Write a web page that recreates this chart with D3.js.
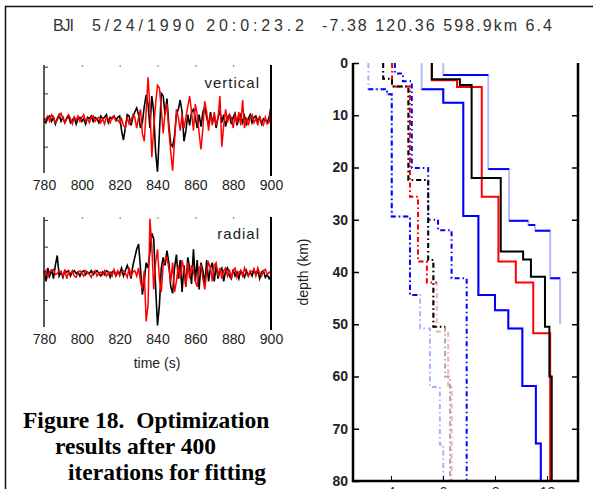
<!DOCTYPE html>
<html>
<head>
<meta charset="utf-8">
<script src="https://cdn.jsdelivr.net/npm/d3@7/dist/d3.min.js"></script>
<style>
  body { margin: 0; background: #fff; }
  svg { display: block; }
  text { font-family: "Liberation Sans", Arial, sans-serif; fill: #222; }
</style>
</head>
<body>
<div id="chart"></div>
<script>
// ---- data ----
const titleParts = ['BJI', '5/24/1990 20:0:23.2', '-7.38 120.36 598.9km 6.4']
const captionLines = ['Figure 18.  Optimization', 'results after 400', 'iterations for fitting']

// seismograms, one sample per second from 780 s to 900 s
const timeTicks = [780, 800, 820, 840, 860, 880, 900]
const vertBlack = [
  0.05, -0.1, 0.1, 0.15, -0.05, 0.1, -0.15, 0.05, 0.2, -0.05,
  0.1, -0.1, 0.05, 0.15, -0.1, 0.0, 0.1, -0.15, 0.05, 0.1,
  -0.05, 0.05, -0.15, 0.1, 0.05, 0.15, -0.05, 0.1, 0.05, -0.1,
  0.15, 0.05, 0.1, 0.2, -0.1, 0.1, 0.05, 0.15, 0.0, 0.1,
  0.15, -0.4, -0.75, -0.3, 0.2, 0.15, -0.2, 0.1, 0.3, 0.45,
  0.2, -0.3, -0.1, 0.5, 0.94, 0.6, -0.3, 0.9, 0.3, -1.2,
  -1.94, -0.5, 1.0, 0.9, 0.2, 0.8, -0.2, -0.9, -1.0, -0.6,
  0.2, 0.4, 0.75, 0.3, -0.8, -0.4, 0.2, -0.2, 0.3, 0.4,
  0.1, -0.3, 0.2, -0.25, 0.3, 0.5, 0.1, -0.2, 0.3, -0.1,
  0.2, -0.3, 0.1, 0.35, -0.1, 0.2, -0.25, 0.1, 0.2, -0.15,
  0.1, 0.25, -0.2, 0.05, 0.2, -0.1, 0.15, -0.15, 0.05, 0.2,
  -0.1, 0.1, 0.15, -0.05, 0.1, -0.15, 0.05, 0.0, -0.1, 0.1,
  0.5
]
const vertRed = [
  -0.1, 0.05, 0.15, -0.05, 0.2, 0.1, -0.1, 0.0, 0.15, 0.25,
  0.05, -0.1, 0.1, 0.2, 0.05, -0.15, 0.1, 0.0, 0.15, -0.05,
  0.1, 0.2, -0.05, 0.05, -0.1, 0.1, 0.15, -0.05, 0.05, 0.1,
  -0.1, 0.05, -0.15, 0.1, 0.05, -0.1, 0.1, 0.15, -0.05, 0.0,
  -0.1, 0.05, -0.2, -0.3, 0.1, -0.15, -0.05, 0.2, 0.1, -0.3,
  0.1, 0.4, -0.5, -0.8, 0.3, 1.6, 0.5, -1.4, -0.3, 0.6,
  1.3, 1.2, 0.4, -0.5, 0.3, 0.6, -0.4, -1.2, -1.9, -0.8,
  0.4, 0.1, -0.4, 0.2, -0.3, 0.1, 0.5, 0.9, 0.3, -0.4,
  0.6, 0.2, -0.5, -1.1, -0.3, 0.7, 0.3, -0.4, 0.2, -0.2,
  0.3, -0.2, 0.1, 0.9, -1.0, -0.2, 0.4, -0.1, 0.2, 0.1,
  -0.3, 0.2, -0.1, 0.3, -0.2, 0.75, -0.3, 0.1, -0.2, 0.1,
  0.2, -0.1, 0.05, -0.2, 0.15, -0.1, -0.2, 0.1, -0.15, -0.1,
  0.5
]
const radBlack = [
  0.1, -0.3, 0.2, -0.1, 0.15, -0.2, 0.3, 0.67, -0.1, 0.05,
  -0.15, 0.1, 0.05, 0.1, -0.1, 0.05, 0.1, 0.0, 0.05, -0.1,
  0.05, 0.1, -0.05, 0.05, 0.0, 0.1, -0.05, 0.05, 0.1, 0.0,
  -0.1, 0.05, -0.05, 0.1, 0.05, -0.15, 0.05, 0.1, -0.1, 0.05,
  0.0, 0.2, -0.1, 0.1, 0.3, 0.1, -0.2, 0.3, 0.6, 0.9,
  1.1, 0.2, -0.8, -0.3, 0.4, 0.2, 0.8, 1.5, 1.3, -0.5,
  -1.95, -1.2, 0.2, 0.6, 0.3, 0.85, 0.4, -0.5, -0.75, 0.2,
  0.7, -0.2, 0.5, -0.7, 0.3, -0.5, 0.6, 0.2, -0.4, 0.9,
  -0.3, 0.5, -0.6, 0.4, 0.1, -0.4, 0.5, -0.3, 0.2, 0.4,
  -0.3, 0.3, -0.2, 0.1, 0.2, -0.3, 0.1, 0.2, -0.1, -0.2,
  0.15, -0.1, 0.05, -0.2, 0.1, 0.0, -0.15, 0.1, -0.1, 0.05,
  -0.1, 0.15, -0.05, 0.1, -0.2, 0.05, 0.1, -0.15, -0.05, -0.2,
  -0.1
]
const radRed = [
  -0.1, 0.1, -0.15, 0.05, 0.1, 0.15, -0.05, 0.0, 0.1, 0.05,
  -0.1, 0.15, -0.2, 0.05, 0.0, 0.1, -0.1, -0.15, 0.05, 0.1,
  0.0, -0.1, 0.1, 0.05, -0.05, -0.15, 0.05, 0.1, -0.1, 0.0,
  0.05, -0.05, 0.1, -0.1, 0.0, 0.05, -0.1, 0.15, -0.05, 0.1,
  -0.1, 0.05, 0.1, 0.0, -0.15, 0.2, -0.1, 0.05, 0.1, -0.1,
  0.2, -0.3, -0.6, 0.1, -1.8, -1.2, 2.05, 1.0, -0.6, 0.4,
  0.9, -0.2, -0.7, 0.3, 0.5, 0.6, 0.2, -0.3, 0.4, -0.7,
  -0.3, 0.3, -0.2, 0.5, 0.1, -0.5, 0.4, -0.2, 0.3, 0.1,
  -0.3, -0.5, 0.2, 0.3, -0.2, -0.6, 0.1, 0.4, 0.2, -0.3,
  0.3, 0.4, -0.1, 0.2, -0.2, 0.1, 0.2, -0.1, 0.15, -0.2,
  0.1, 0.2, -0.15, 0.05, 0.1, -0.1, 0.2, 0.0, -0.1, 0.1,
  0.05, 0.15, -0.1, 0.2, 0.0, -0.1, 0.1, 0.15, -0.05, 0.05,
  0.0
]

// velocity models: [layer top depth (km), velocity]; a null velocity ends the line
const depthTicks = [0, 10, 20, 30, 40, 50, 60, 70, 80]
const velTicks = [4, 6, 8, 10]
const blackSolid = [[0, 5.57], [3.1, 6.65], [4.2, 7.10], [22, 8.22], [36.1, 9.08], [37.6, 9.38], [40.9, 9.92], [50.5, 10.09], [60, 10.18]]
const redSolid = [[0, 5.57], [3.3, 6.54], [4.6, 7.49], [25.6, 8.13], [38, 8.80], [42, 9.47], [51.7, 10.12]]
const blueSolid = [[0, 5.18], [5, 6.01], [7.6, 6.78], [29.3, 7.36], [44.4, 8.0], [47.3, 8.51], [50.8, 9.05], [61.8, 9.57], [72.8, 9.76]]
const blue2Solid = [[0, 6.01], [2.3, 7.74], [20.3, 8.54], [30.2, 9.28], [31, 9.54], [32.1, 10.12], [41.2, 10.5], [50, null]]
const blackDash = [[0, 3.70], [3, 4.04], [4.5, 4.67], [22.4, 5.43], [37.7, 5.63], [50.5, 6.08], [60, 6.27]]
const redDash = [[0, 4.04], [4.5, 4.73], [25.6, 5.04], [38, 5.38], [42, 5.76], [51.4, 6.2], [62, 6.33]]
const blueDash = [[0, 3.13], [5, 3.85], [6, 4.03], [29.4, 4.73], [44.4, 5.12], [50.8, 5.50], [62, 5.88], [73, 6.01]]
const blue2Dash = [[0, 4.15], [2, 4.46], [3.5, 4.80], [20.1, 5.43], [30, 5.81], [32, 6.33], [41.2, 6.91]]

// ---- drawing ----
const width = 593
const height = 489

const svg = d3.select('#chart')
  .append('svg')
  .attr('width', width)
  .attr('height', height)

// page frame
svg.append('path')
  .attr('d', `M5.5,${height}V6.5H${width}`)
  .attr('fill', 'none')
  .attr('stroke', '#111')
  .attr('stroke-width', 1.5)

// title
const titleX = [[53, 21], [92, 212], [322, 230]]
svg.selectAll('.title')
  .data(titleParts)
  .enter()
  .append('text')
  .attr('class', 'title')
  .attr('x', (d, i) => titleX[i][0])
  .attr('y', 31)
  .attr('textLength', (d, i) => titleX[i][1])
  .attr('lengthAdjust', 'spacing')
  .style('font-size', '16px')
  .style('fill', '#333')
  .text(d => d)

// seismogram panels
const xTime = d3.scaleLinear().domain([780, 900]).range([44, 271])
const times = d3.range(780, 901)

const panels = [
  { label: 'vertical', top: 65, bottom: 173, yRange: [173.3, 66.7], black: vertBlack, red: vertRed, labelY: 88 },
  { label: 'radial', top: 217, bottom: 327, yRange: [326.7, 220], black: radBlack, red: radRed, labelY: 239 }
]

panels.forEach(p => {
  const yAmp = d3.scaleLinear().domain([-2, 2]).range(p.yRange)
  const g = svg.append('g')

  const trace = d3.line()
    .x((d, i) => xTime(times[i]))
    .y(d => yAmp(d))

  g.append('path')
    .datum(p.black)
    .attr('fill', 'none')
    .attr('stroke', '#000')
    .attr('stroke-width', 1.6)
    .attr('d', trace)

  g.append('path')
    .datum(p.red)
    .attr('fill', 'none')
    .attr('stroke', '#ff0000')
    .attr('stroke-width', 1.5)
    .attr('d', trace)

  // side axes
  g.append('line')
    .attr('x1', 44).attr('x2', 44)
    .attr('y1', p.top).attr('y2', p.bottom)
    .attr('stroke', '#222').attr('stroke-width', 1.5)
  g.append('line')
    .attr('x1', 271).attr('x2', 271)
    .attr('y1', p.top).attr('y2', p.bottom + 3)
    .attr('stroke', '#000').attr('stroke-width', 2)

  const yAxis = g.append('g')
    .attr('transform', 'translate(44,0)')
    .call(d3.axisRight(yAmp).tickValues([-1, 0, 1, 2]).tickSize(4).tickFormat(''))
  yAxis.select('.domain').remove()
  yAxis.selectAll('line').attr('stroke', '#333')

  const topTicks = g.append('g')
    .attr('transform', `translate(0,${p.top})`)
    .call(d3.axisBottom(xTime).tickValues([800, 820, 840, 860, 880]).tickSize(2).tickFormat(''))
  topTicks.select('.domain').remove()
  topTicks.selectAll('line').attr('stroke', '#777')

  const xAxis = g.append('g')
    .attr('transform', `translate(0,${p.bottom + 3})`)
    .call(d3.axisBottom(xTime).tickValues(timeTicks).tickSize(0).tickPadding(4))
  xAxis.select('.domain').remove()
  xAxis.selectAll('text')
    .style('font-size', '14px')
    .style('font-family', '"Liberation Sans", Arial, sans-serif')
    .style('fill', '#222')

  g.append('text')
    .attr('x', 260)
    .attr('y', p.labelY)
    .attr('text-anchor', 'end')
    .style('font-size', '15px')
    .style('letter-spacing', '1px')
    .text(p.label)
})

svg.append('text')
  .attr('x', 157)
  .attr('y', 368)
  .attr('text-anchor', 'middle')
  .style('font-size', '14px')
  .text('time (s)')

// velocity model panel
const xVel = d3.scaleLinear().domain([2.54, 11.19]).range([353, 578])
const yDepth = d3.scaleLinear().domain([0, 80]).range([63, 481])

svg.append('clipPath')
  .attr('id', 'clip')
  .append('rect')
  .attr('x', 353).attr('y', 63)
  .attr('width', 225).attr('height', 418)

// layer list -> step points, kept between minDepth and maxDepth
const toSteps = (layers, minDepth = 0, maxDepth = 80) => {
  const pts = []
  layers.forEach((l, i) => {
    if (l[1] === null) return
    const top = Math.max(l[0], minDepth)
    const bottom = Math.min(i < layers.length - 1 ? layers[i + 1][0] : 80, maxDepth)
    if (bottom < top) return
    pts.push([l[1], top])
    pts.push([l[1], bottom])
  })
  return pts
}

const stepLine = d3.line()
  .x(d => xVel(d[0]))
  .y(d => yDepth(d[1]))

const dd = '5,3,1.5,3'
// the scan prints parts of some models faintly: dark only between darkFrom and darkTo
const models = [
  { data: blue2Dash, color: '#0000ff', dash: dd },
  { data: blueDash, color: '#0000ff', faint: '#aab0ff', darkFrom: 5, darkTo: 44.4, dash: dd },
  { data: redDash, color: '#ff0000', faint: '#ffaaaa', darkTo: 42, dash: dd },
  { data: blackDash, color: '#000', faint: '#aaaaaa', darkTo: 50.5, dash: dd },
  { data: blue2Solid, color: '#b8bcff', dash: null },
  { data: blueSolid, color: '#0000ff', faint: '#b8bcff', darkFrom: 5, dash: null },
  { data: redSolid, color: '#ff0000', dash: null },
  { data: blackSolid, color: '#000', dash: null }
]

const modelG = svg.append('g').attr('clip-path', 'url(#clip)')

models.forEach(m => {
  if (m.faint) {
    modelG.append('path')
      .datum(toSteps(m.data))
      .attr('fill', 'none')
      .attr('stroke', m.faint)
      .attr('stroke-width', 2)
      .attr('stroke-dasharray', m.dash)
      .attr('d', stepLine)
  }
  modelG.append('path')
    .datum(toSteps(m.data, m.darkFrom || 0, m.darkTo || 80))
    .attr('fill', 'none')
    .attr('stroke', m.color)
    .attr('stroke-width', 2)
    .attr('stroke-dasharray', m.dash)
    .attr('d', stepLine)
})

// the outer blue model: horizontal steps print darker than its verticals
const blue2Steps = blue2Solid.slice(1)
  .map((l, i) => [blue2Solid[i][1], l[1], l[0]])
  .filter(d => d[1] !== null)
modelG.selectAll('.b2h')
  .data(blue2Steps)
  .enter()
  .append('line')
  .attr('x1', d => xVel(d[0]))
  .attr('x2', d => xVel(d[1]))
  .attr('y1', d => yDepth(d[2]))
  .attr('y2', d => yDepth(d[2]))
  .attr('stroke', '#0000ff')
  .attr('stroke-width', 2)

// axes of the model panel
const leftAxis = svg.append('g')
  .attr('transform', 'translate(353,0)')
  .call(d3.axisLeft(yDepth).tickValues(depthTicks).tickSize(-6).tickPadding(5))
leftAxis.select('.domain').remove()
leftAxis.selectAll('text')
  .style('font-size', '14px')
  .style('font-weight', 'bold')
  .style('font-family', '"Liberation Sans", Arial, sans-serif')
  .style('fill', '#222')
leftAxis.selectAll('line').attr('stroke-width', 1.5)

const rightAxis = svg.append('g')
  .attr('transform', 'translate(578,0)')
  .call(d3.axisRight(yDepth).tickValues(depthTicks.slice(1, -1)).tickSize(-6).tickFormat(''))
rightAxis.select('.domain').remove()
rightAxis.selectAll('line').attr('stroke-width', 1.5)

const bottomAxis = svg.append('g')
  .attr('transform', 'translate(0,481)')
  .call(d3.axisBottom(xVel).tickValues(velTicks).tickSize(-5).tickPadding(6))
bottomAxis.select('.domain').remove()
bottomAxis.selectAll('text')
  .style('font-size', '14px')
  .style('font-family', '"Liberation Sans", Arial, sans-serif')
  .style('fill', '#222')

svg.append('path')
  .attr('d', 'M353,63V481H578V63')
  .attr('fill', 'none')
  .attr('stroke', '#000')
  .attr('stroke-width', 2.5)

svg.append('text')
  .attr('transform', 'translate(308,272) rotate(-90)')
  .attr('text-anchor', 'middle')
  .style('font-size', '14px')
  .text('depth (km)')

// caption
const captionX = [23, 55, 68]
svg.selectAll('.caption')
  .data(captionLines)
  .enter()
  .append('text')
  .attr('class', 'caption')
  .attr('x', (d, i) => captionX[i])
  .attr('y', (d, i) => 428 + i * 26)
  .style('font-family', '"Liberation Serif", "Times New Roman", serif')
  .style('font-weight', 'bold')
  .style('font-size', '23.5px')
  .style('white-space', 'pre')
  .style('fill', '#000')
  .text(d => d)
</script>
</body>
</html>
